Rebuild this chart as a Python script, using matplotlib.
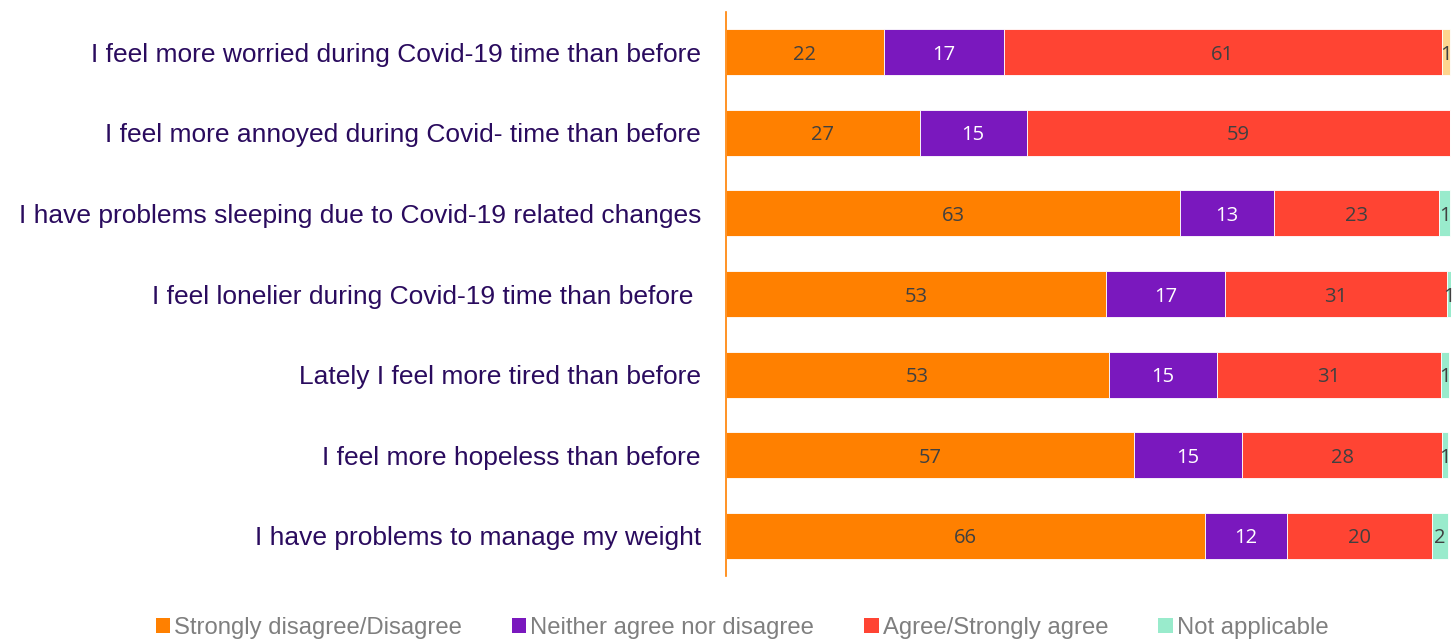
import matplotlib
matplotlib.use("Agg")
import matplotlib.pyplot as plt
from matplotlib.patches import Patch
import numpy as np

categories = [
    "I feel more worried during Covid-19 time than before",
    "I feel more annoyed during Covid- time than before",
    "I have problems sleeping due to Covid-19 related changes",
    "I feel lonelier during Covid-19 time than before ",
    "Lately I feel more tired than before",
    "I feel more hopeless than before",
    "I have problems to manage my weight",
]
series_names = ["Strongly disagree/Disagree", "Neither agree nor disagree",
                "Agree/Strongly agree", "Not applicable"]
# bar widths (normalised shares) and the printed labels
disagree = [21.8, 26.8, 62.8, 52.6, 53.0, 56.4, 66.2]
neither = [16.6, 14.8, 13.0, 16.5, 14.9, 15.0, 11.4]
agree = [60.6, 58.5, 22.9, 30.6, 31.0, 27.7, 20.1]
not_applicable = [1.1, 0.0, 1.4, 0.6, 1.1, 0.8, 2.2]
disagree_labels = [22, 27, 63, 53, 53, 57, 66]
neither_labels = [17, 15, 13, 17, 15, 15, 12]
agree_labels = [61, 59, 23, 31, 31, 28, 20]
na_labels = [1, None, 1, 1, 1, 1, 2]

colors = ["#FF8000", "#7A18BE", "#FF4433", "#99EBCC"]
special_first_na_color = "#FDD58F"
text_colors = ["#404040", "#FFFFFF", "#404040", "#404040"]

fig = plt.figure(figsize=(14.55, 6.39), dpi=100)
ax = fig.add_axes([726 / 1455, 1 - 576 / 639, 725 / 1455, (576 - 12) / 639])

y = np.arange(len(categories))
data = [disagree, neither, agree, not_applicable]
labels = [disagree_labels, neither_labels, agree_labels, na_labels]
left = np.zeros(len(categories))
for i, vals in enumerate(data):
    vals = np.array(vals)
    cols = [colors[i]] * len(vals)
    if i == 3:
        cols[0] = special_first_na_color
    bars = ax.barh(y, vals, left=left, height=0.57, color=cols,
                   edgecolor="white", linewidth=0.6)
    for j, v in enumerate(vals):
        lab = labels[i][j]
        if lab is not None:
            ax.text(left[j] + v / 2, y[j], f"{lab}", ha="center", va="center_baseline",
                    fontsize=14.5, color=text_colors[i], family="Open Sans")
    left += vals

ax.set_xlim(0, left.max())
ax.set_ylim(len(categories) - 0.5, -0.5)
ax.set_xticks([])
ax.set_yticks(y)
ax.set_yticklabels(categories, fontsize=19, color="#2A0B5E", family="Liberation Sans")
ax.tick_params(axis="y", length=0, pad=18)
for s in ["top", "right", "bottom"]:
    ax.spines[s].set_visible(False)
ax.spines["left"].set_color("#FF8000")
ax.spines["left"].set_linewidth(1.2)

handles = [Patch(facecolor=c, edgecolor="none") for c in colors]
leg = fig.legend(handles, series_names, loc="center", bbox_to_anchor=(742 / 1455, 1 - 628 / 639),
                 ncol=4, frameon=False, handlelength=0.6, handleheight=0.6,
                 handletextpad=0.17, columnspacing=2.1,
                 prop={"family": "Liberation Sans", "size": 17.2})
for t in leg.get_texts():
    t.set_color("#7F7F7F")

fig.savefig("out.png", dpi=100)
